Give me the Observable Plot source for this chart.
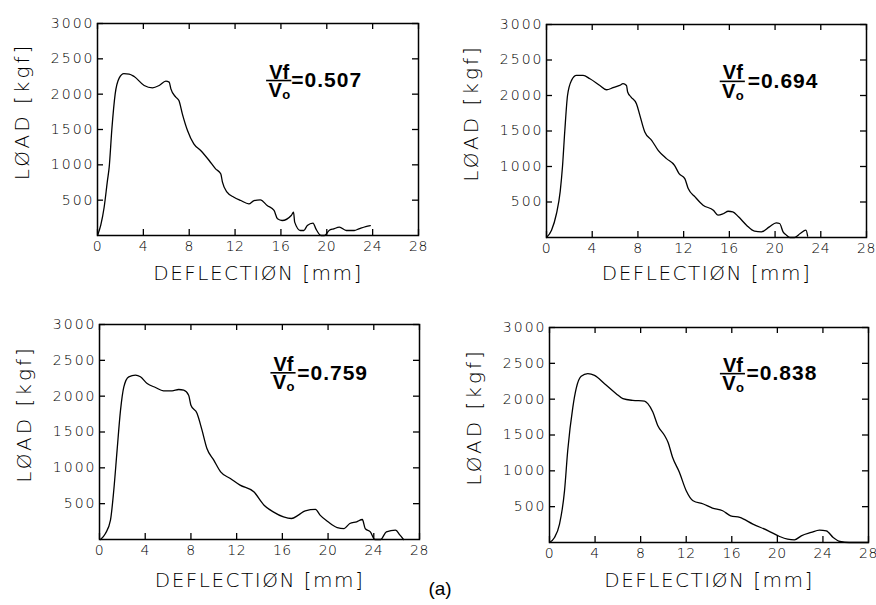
<!DOCTYPE html>
<html><head><meta charset="utf-8">
<script src="https://cdn.jsdelivr.net/npm/d3@7"></script>
<script src="https://cdn.jsdelivr.net/npm/@observablehq/plot@0.6"></script>
<style>
body{margin:0;background:#fff;}
#wrap{position:relative;width:876px;height:605px;overflow:hidden;background:#fff;}
.panel{position:absolute;z-index:1;}
#cap{position:absolute;left:0;width:880px;top:578px;text-align:center;font-family:"Liberation Sans",Arial,sans-serif;font-size:19px;color:#000;z-index:5;}
</style></head><body>
<div id="wrap"><div id="cap">(a)</div></div>
<script>
// ---- tick labels / categories ----
const xTicks = [0, 4, 8, 12, 16, 20, 24, 28];
const yTicks = [500, 1000, 1500, 2000, 2500, 3000];
const ratios = ["0.507", "0.694", "0.759", "0.838"];

// ---- series: Vf/Vo = 0.507 ----
const defl507 = [0,0.29,0.58,0.87,1.02,1.25,1.54,1.9,2.3,2.76,3.2,4.07,4.8,5.38,5.96,6.25,6.4,6.83,7.1,7.4,7.85,8.4,9.0,9.74,10.3,10.75,10.9,11.3,11.9,12.5,13.2,13.66,14.2,14.8,15.4,15.7,16.1,16.9,17.1,17.2,17.7,18.0,18.3,18.8,19.05,19.5,19.8,20.2,20.6,21.1,21.7,22.4,22.8,23.4,23.8];
const load507 = [0,150,400,780,967,1500,2000,2230,2290,2285,2250,2123,2090,2123,2184,2170,2075,1958,1910,1722,1486,1297,1203,1061,943,873,755,613,542,495,448,495,505,425,354,236,212,283,330,189,71,71,141,175,94,0,0,71,94,118,71,71,94,127,141];

// ---- series: Vf/Vo = 0.694 ----
const defl694 = [0,0.44,0.875,1.2,1.4,1.6,1.84,2.19,2.62,3.2,3.8,4.67,5.25,5.83,6.4,6.7,7.0,7.1,7.4,7.87,8.17,8.6,9.2,9.77,10.5,11.2,11.6,12.1,12.4,13.0,13.7,14.6,15.0,15.5,15.9,16.3,16.8,17.5,18.2,18.8,19.5,20.1,20.4,20.7,21.0,21.3,21.7,22.2,22.7,22.85];
const load694 = [0,103,338,650,1000,1500,2000,2213,2283,2283,2236,2142,2081,2110,2142,2166,2142,2049,1978,1885,1720,1486,1369,1228,1111,1017,900,830,689,572,455,384,314,338,370,361,291,173,89,80,150,206,197,80,33,0,0,56,103,20];

// ---- series: Vf/Vo = 0.759 ----
const defl759 = [0.09,0.52,0.96,1.25,1.54,1.84,2.13,2.56,3.15,3.58,4.17,4.9,5.6,6.35,6.93,7.37,7.8,8.0,8.54,8.97,9.4,10.0,10.6,11.45,12.3,13.5,14.4,15.2,16.1,16.8,17.4,18.0,18.9,19.3,20.0,20.8,21.4,21.9,22.5,23.0,23.25,23.7,24.1,24.6,25.1,25.9,26.3,26.6];
const load759 = [0,84,270,688,1247,1805,2130,2270,2293,2270,2177,2121,2074,2074,2093,2084,2014,1874,1758,1526,1270,1107,944,851,758,665,479,386,316,293,340,400,419,340,247,167,153,223,247,279,153,107,0,0,107,130,60,0];

// ---- series: Vf/Vo = 0.838 ----
const defl838 = [0,0.44,0.88,1.32,1.6,2.05,2.34,2.78,3.36,3.95,4.83,5.85,6.44,7.3,8.34,8.63,9.07,9.5,10.1,10.4,10.8,11.4,12.0,12.6,13.5,14.3,15.2,15.9,16.7,17.85,19.2,20.2,20.9,21.5,22.1,22.97,23.7,24.3,24.9,25.5,26.3,28];
const load838 = [0,70,257,723,1283,1890,2147,2319,2356,2333,2216,2077,2007,1983,1974,1937,1820,1633,1493,1400,1190,980,723,583,537,481,443,373,350,257,163,84,47,37,93,140,173,163,70,14,0,0];

const series = [[defl507, load507], [defl694, load694], [defl759, load759], [defl838, load838]];

// ---- layout (pixels) ----
const layout = [
  {left: 0,   top: 0,   width: 440, height: 290, mL: 97,  mR: 22, mT: 23, mB: 55, fx: 15.85, fy: 2193, ex: 16.9, xl: 38},
  {left: 436, top: 0,   width: 440, height: 290, mL: 110, mR: 10, mT: 24, mB: 53, fx: 16.3,  fy: 2199, ex: 17.6, xl: 36},
  {left: 0,   top: 290, width: 440, height: 300, mL: 99,  mR: 21, mT: 34, mB: 51, fx: 16.1,  fy: 2326, ex: 17.3, xl: 41},
  {left: 436, top: 290, width: 440, height: 300, mL: 113, mR: 8,  mT: 37, mB: 48, fx: 16.1,  fy: 2356, ex: 17.3, xl: 38}
];
const TICK = 6;
// letter spacing applied per group of texts (Plot has no per-mark option for it)
const spacing = {
  "x-axis tick label": "0.5px",
  "y-axis tick label": "2px",
  "ylabel": "3px",
  "xlabel": "1.5px",
  "ratio": "1px"
};

const wrap = document.getElementById("wrap");
const boldFont = "Liberation Sans, Arial, sans-serif";
const fmt = d => String(d);

series.forEach(([dx, ld], i) => {
  const L = layout[i];
  const fw = L.width - L.mL - L.mR;
  const fh = L.height - L.mT - L.mB;
  const rows = dx.map((d, j) => ({d, l: ld[j]}));
  const chart = Plot.plot({
    width: L.width, height: L.height,
    marginLeft: L.mL, marginRight: L.mR, marginTop: L.mT, marginBottom: L.mB,
    x: {domain: [0, 28]},
    y: {domain: [0, 3000]},
    style: {fontFamily: "DejaVu Sans", fontWeight: 200, fontSize: "14px", color: "black", background: "transparent", overflow: "visible"},
    marks: [
      Plot.frame({stroke: "black", strokeWidth: 1.5}),
      // inward tick marks on all four sides
      Plot.tickX(xTicks, {x: d => d, insetTop: fh - TICK, stroke: "black", strokeWidth: 1.3}),
      Plot.tickX(xTicks, {x: d => d, insetBottom: fh - TICK, stroke: "black", strokeWidth: 1.3}),
      Plot.tickY(yTicks, {y: d => d, insetRight: fw - TICK, stroke: "black", strokeWidth: 1.3}),
      Plot.tickY(yTicks, {y: d => d, insetLeft: fw - TICK, stroke: "black", strokeWidth: 1.3}),
      Plot.axisX({ticks: xTicks, tickSize: 0, tickPadding: 6, tickFormat: fmt, label: null, fontSize: 14}),
      Plot.axisY({ticks: yTicks, tickSize: 0, tickPadding: 3, tickFormat: fmt, label: null, fontSize: 14}),
      Plot.line(rows, {x: "d", y: "l", stroke: "black", strokeWidth: 1.3, curve: "monotone-x"}),
      Plot.text(["LØAD [kgf]"], {ariaLabel: () => "ylabel", frameAnchor: "left", textAnchor: "middle", lineAnchor: "middle", dx: -75, dy: -18, rotate: -90, fontSize: 20}),
      Plot.text(["DEFLECTIØN [mm]"], {ariaLabel: () => "xlabel", frameAnchor: "bottom", textAnchor: "middle", lineAnchor: "middle", dy: L.xl, fontSize: 20}),
      // Vf / Vo = value annotation
      Plot.text([ratios[i]], {x: () => L.fx, y: () => L.fy, text: () => "Vf", lineAnchor: "bottom", dy: -2, fontSize: 20, fontWeight: "bold", fontFamily: boldFont}),
      Plot.ruleY([ratios[i]], {y: () => L.fy, x1: () => L.fx - 1.1, x2: () => L.fx + 1.1, stroke: "black", strokeWidth: 1.6}),
      Plot.text([ratios[i]], {x: () => L.fx, y: () => L.fy, text: () => "V", lineAnchor: "top", dy: 2, dx: -4, fontSize: 20, fontWeight: "bold", fontFamily: boldFont}),
      Plot.text([ratios[i]], {x: () => L.fx, y: () => L.fy, text: () => "o", lineAnchor: "top", dy: 9, dx: 7, fontSize: 13, fontWeight: "bold", fontFamily: boldFont}),
      Plot.text([ratios[i]], {ariaLabel: () => "ratio", x: () => L.ex, y: () => L.fy, text: (d) => "=" + d, textAnchor: "start", lineAnchor: "middle", fontSize: 21, fontWeight: "bold", fontFamily: boldFont})
    ]
  });
  Object.entries(spacing).forEach(([label, ls]) => {
    chart.querySelectorAll(`[aria-label="${label}"]`).forEach(el => {
      el.setAttribute("letter-spacing", ls);
      el.querySelectorAll("text").forEach(t => t.setAttribute("letter-spacing", ls));
    });
  });
  chart.classList.add("panel");
  chart.style.left = L.left + "px";
  chart.style.top = L.top + "px";
  chart.style.position = "absolute";
  wrap.appendChild(chart);
});
</script>
</body></html>
